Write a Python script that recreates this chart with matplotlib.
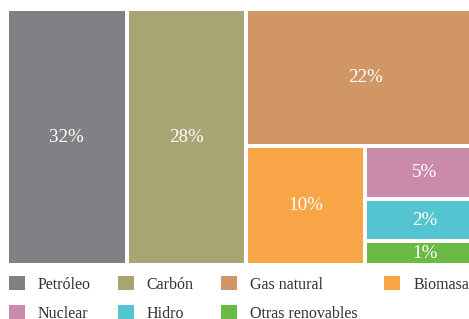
import matplotlib
matplotlib.use('Agg')
import matplotlib.pyplot as plt
from matplotlib.patches import Rectangle, Patch

plt.rcParams['font.family'] = ['Liberation Serif', 'DejaVu Serif']

# data
sources = ['Petróleo', 'Carbón', 'Gas natural', 'Biomasa', 'Nuclear', 'Hidro', 'Otras renovables']
shares = [32, 28, 22, 10, 5, 2, 1]
# tile areas as drawn in the picture (arbitrary units)
tile_size = [30.6, 30.6, 32.7, 14.1, 6.3, 5.0, 2.8]
colors = ['#808184', '#a8a473', '#d09663', '#f8a548', '#ca8bab', '#54c5d0', '#6aba44']

# nesting of the treemap (indices into the lists above)
tree = [0, 1, [2, [3, [4, 5, 6]]]]


def weight(node):
    if isinstance(node, list):
        return sum(weight(n) for n in node)
    return tile_size[node]


def layout(node, x, y, w, h, horiz, out):
    if not isinstance(node, list):
        out[node] = (x, y, w, h)
        return
    total = weight(node)
    pos = x if horiz else y
    for child in node:
        f = weight(child) / total
        if horiz:
            layout(child, pos, y, w * f, h, not horiz, out)
            pos += w * f
        else:
            layout(child, x, pos, w, h * f, not horiz, out)
            pos += h * f


W, H = 469, 319
fig = plt.figure(figsize=(W / 100, H / 100), dpi=100)
ax = fig.add_axes([0, 0, 1, 1])
ax.set_xlim(0, W)
ax.set_ylim(H, 0)
ax.axis('off')

rects = {}
layout(tree, 7, 9, 477, 256, True, rects)
gap = 2
for i, (x, y, w, h) in rects.items():
    ax.add_patch(Rectangle((x + gap, y + gap), w - 2 * gap, h - 2 * gap,
                           facecolor=colors[i], edgecolor='none'))
    ax.text(x + w / 2, y + h / 2, f'{shares[i]}%', ha='center', va='center',
            color='white', fontsize=13.7)

ncol = 4
order = [r * ncol + c for c in range(ncol) for r in range(2) if r * ncol + c < len(sources)]
handles = [Patch(facecolor=colors[i], edgecolor='none', label=sources[i]) for i in order]
ax.legend(handles=handles, loc='upper left', bbox_to_anchor=(9, 276),
          bbox_transform=ax.transData, ncol=ncol, frameon=False,
          fontsize=11.5, handlelength=1.0, handleheight=1.0,
          handletextpad=0.81, columnspacing=1.69, labelspacing=0.8,
          borderpad=0, borderaxespad=0, labelcolor='#333333')

plt.savefig('out.png', dpi=100)
